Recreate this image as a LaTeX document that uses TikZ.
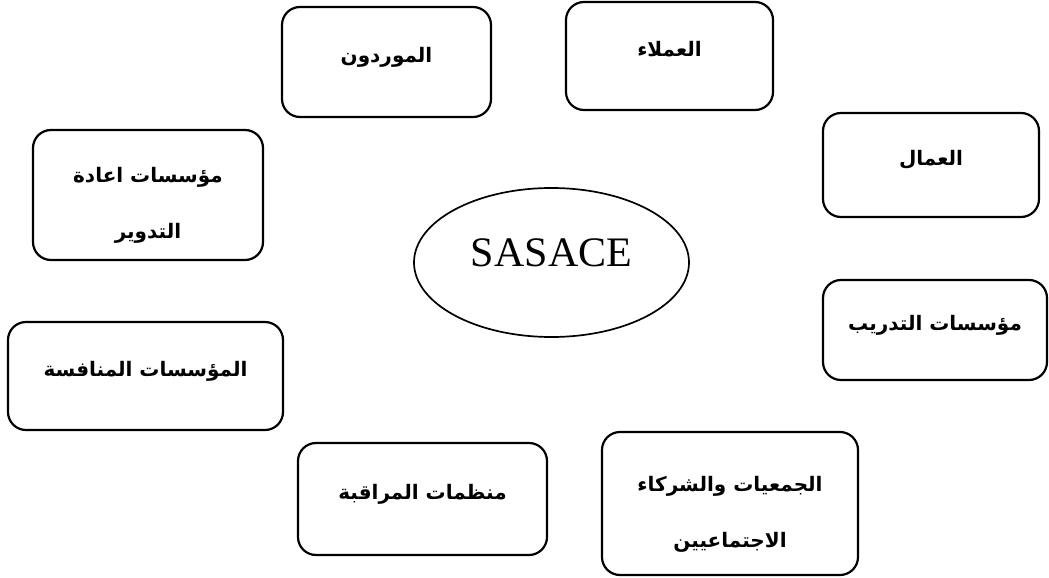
\documentclass[tikz,border=0pt]{standalone}
\usepackage{fontspec}
\setmainfont{Liberation Serif}
\newfontfamily\arabicfont[Script=Arabic]{DejaVu Sans}
\TeXXeTstate=1
\usetikzlibrary{shapes.geometric}

\begin{document}
\begin{tikzpicture}[
        x=1pt, y=-1pt,
        block/.style={rectangle, draw, line width=2.2pt, rounded corners=18pt, align=center,
            font=\arabicfont\bfseries\fontsize{20}{56}\selectfont},
        oneline/.style={block, text depth=14pt},
        hub/.style={ellipse, draw, line width=1.7pt, minimum width=275pt, minimum height=149pt,
            text depth=20pt, font=\fontsize{42}{48}\selectfont}
    ]
        \useasboundingbox (0,0) rectangle (1049,578);

        % Company in the middle
        \node[hub] (sasace) at (551.5,262.5) {SASACE};

        % Top row
        \node[oneline, minimum width=209pt, minimum height=110pt] (suppliers) at (386.5,62) {\beginR الموردون\endR};
        \node[oneline, minimum width=207pt, minimum height=108pt] (customers) at (669.5,56) {\beginR العملاء\endR};

        % Right side
        \node[oneline, minimum width=216pt, minimum height=104pt] (workers) at (931,165) {\beginR العمال\endR};
        \node[oneline, minimum width=224pt, minimum height=100pt] (trainingInst) at (935,330) {\beginR مؤسسات التدريب\endR};

        % Bottom row
        \node[block, minimum width=256pt, minimum height=143pt] (associations) at (730,503.5)
            {\rule{0pt}{36pt}\beginR الجمعيات والشركاء\endR\\\beginR الاجتماعيين\endR};
        \node[oneline, minimum width=249pt, minimum height=112pt] (watchdogs) at (422.5,499) {\beginR منظمات المراقبة\endR};

        % Left side
        \node[oneline, minimum width=275pt, minimum height=108pt] (competitors) at (145.5,376) {\beginR المؤسسات المنافسة\endR};
        \node[block, minimum width=230pt, minimum height=130pt] (recyclers) at (148,195)
            {\rule{0pt}{36pt}\beginR مؤسسات اعادة\endR\\\beginR التدوير\endR};

\end{tikzpicture}
\end{document}
